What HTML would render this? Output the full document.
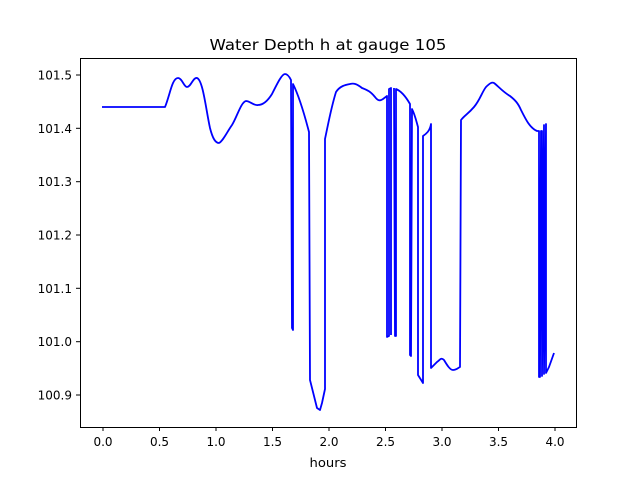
<!DOCTYPE html>
<html><head><style>body{margin:0;background:#fff}svg{display:block}</style></head><body>
<svg width="640" height="480" xmlns="http://www.w3.org/2000/svg" font-family="DejaVu Sans, Liberation Sans, sans-serif">
<rect width="640" height="480" fill="#fff"/>
<text x="328" y="50" font-size="15.5" text-anchor="middle" textLength="237" lengthAdjust="spacingAndGlyphs">Water Depth h at gauge 105</text>
<path fill="none" stroke="#0000ff" stroke-width="1.8" stroke-linejoin="round" d="M102,107 L165,107 C170,95 172,78 178,78 C182,78 184,87 187,87 C191,87 193,77 197,78 C203,80 206,110 210,128 C213,140 216,143 219,143 C223,141 227,132 232,125 C237,117 241,102 246,101 C250,101 254,106 258,105 C262,105 267,102 272,94 C278,82 282,74 285,74 C288,74 290,78 291,80 L292,328 L293,330 L293,84 C297,92 302,105 309,132 L310,380 L317,408 L320,410 L322,403 L325,389 L325,139 C328,125 331,108 336,92 C340,86 345,85 350,84 C354,83 357,84 362,88 C367,90 370,91 375,97 C378,101 380,101 383,99 L387,96 L387,337 L389,336 L389,89 L391,88 L391,335 M394,88 L395,336 L396,336 L396,89 C401,91 406,97 410,104 L410,355 L411,356 L412,109 C415,115 416,120 418,127 L418,375 L423,383 L423,136 C426,134 430,131 431,124 L431,368 L437,362 C440,360 441,357 444,360 C447,365 450,370 453,370 C456,370 458,368 460,367 L461,120 C465,115 468,114 474,107 C480,100 482,92 486,87 C490,83 492,82 494,83 C498,86 503,92 510,96 C515,100 518,103 521,110 C526,120 530,128 537,131 L539,131 L539,377 L540,377 L541,131 L542,131 L542,376 L544,125 L544,374 L546,124 L546,373 L549,367 L554,353"/>
<rect x="80.5" y="58.5" width="496" height="369" fill="none" stroke="#000" stroke-width="1"/>
<g stroke="#000" stroke-width="1">
<line x1="103" y1="427" x2="103" y2="431"/><line x1="159.5" y1="427" x2="159.5" y2="431"/><line x1="216" y1="427" x2="216" y2="431"/><line x1="272.5" y1="427" x2="272.5" y2="431"/><line x1="329" y1="427" x2="329" y2="431"/><line x1="385.5" y1="427" x2="385.5" y2="431"/><line x1="442" y1="427" x2="442" y2="431"/><line x1="498.5" y1="427" x2="498.5" y2="431"/><line x1="555" y1="427" x2="555" y2="431"/>
<line x1="76" y1="75" x2="80" y2="75"/><line x1="76" y1="128.3" x2="80" y2="128.3"/><line x1="76" y1="181.7" x2="80" y2="181.7"/><line x1="76" y1="235" x2="80" y2="235"/><line x1="76" y1="288.3" x2="80" y2="288.3"/><line x1="76" y1="341.7" x2="80" y2="341.7"/><line x1="76" y1="395" x2="80" y2="395"/>
</g>
<g font-size="12" text-anchor="middle">
<text x="103" y="446">0.0</text><text x="159.5" y="446">0.5</text><text x="216" y="446">1.0</text><text x="272.5" y="446">1.5</text><text x="329" y="446">2.0</text><text x="385.5" y="446">2.5</text><text x="442" y="446">3.0</text><text x="498.5" y="446">3.5</text><text x="555" y="446">4.0</text>
<text x="328" y="467" textLength="37" lengthAdjust="spacingAndGlyphs">hours</text>
</g>
<g font-size="12" text-anchor="end">
<text x="72" y="79.5">101.5</text><text x="72" y="132.8">101.4</text><text x="72" y="186.2">101.3</text><text x="72" y="239.5">101.2</text><text x="72" y="292.8">101.1</text><text x="72" y="346.2">101.0</text><text x="72" y="399.5">100.9</text>
</g>
</svg>
</body></html>
